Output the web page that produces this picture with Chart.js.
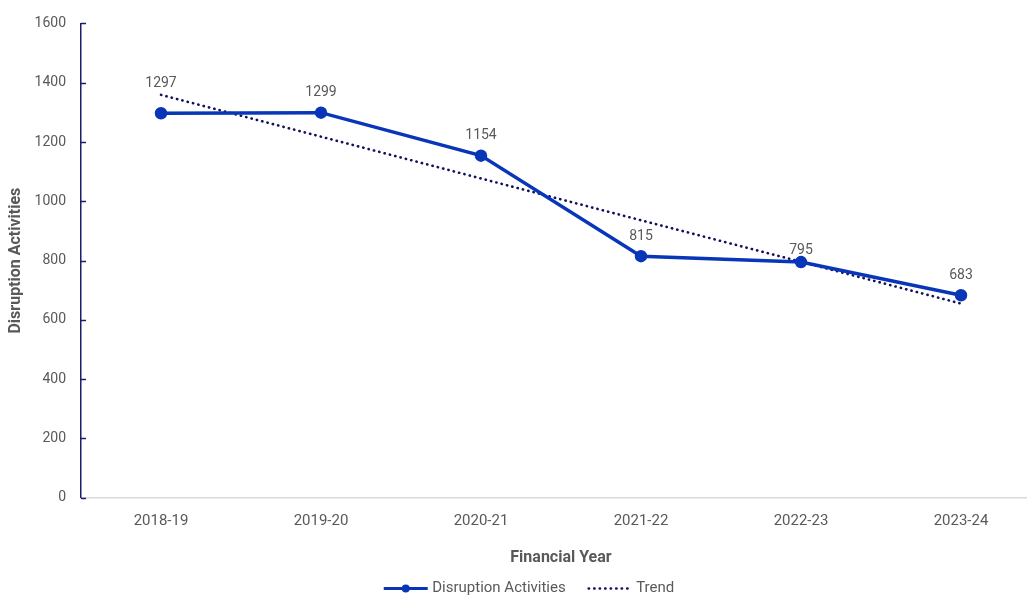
<!DOCTYPE html>
<html>
<head>
<meta charset="utf-8">
<title>Disruption Activities</title>
<script src="https://cdn.jsdelivr.net/npm/chart.js@4/dist/chart.umd.min.js"></script>
<style>
  html, body { margin: 0; padding: 0; background: #fff; overflow: hidden; }
  #wrap { position: relative; width: 1049px; height: 597px; }
</style>
</head>
<body>
<div id="wrap"><canvas id="activityChart"></canvas></div>
<script>
const years = ['2018-19', '2019-20', '2020-21', '2021-22', '2022-23', '2023-24'];
const activities = [1297, 1299, 1154, 815, 795, 683];
const trend = [1359, 1218, 1077, 936, 796, 655];
const yTicks = [0, 200, 400, 600, 800, 1000, 1200, 1400, 1600];

const textColor = '#595959';
const lineBlue = '#0936b8';
const trendNavy = '#10105e';
const axisNavy = '#1c1c6b';

Chart.defaults.font.family = 'Roboto, "Liberation Sans", sans-serif';
Chart.defaults.font.size = 14;
Chart.defaults.color = textColor;

// small tick marks pointing into the plot from the y axis
const innerTicks = {
    id: 'innerTicks',
    afterDraw(chart) {
        const y = chart.scales.y;
        const ctx = chart.ctx;
        ctx.save();
        ctx.strokeStyle = axisNavy;
        ctx.lineWidth = 1.5;
        yTicks.forEach(v => {
            const py = Math.round(y.getPixelForValue(v)) + 0.5;
            ctx.beginPath();
            ctx.moveTo(y.right, py);
            ctx.lineTo(y.right + 5, py);
            ctx.stroke();
        });
        ctx.restore();
    }
};

// value labels above each point, lifted over the trend line where they would touch
const valueLabels = {
    id: 'valueLabels',
    afterDatasetsDraw(chart) {
        const ctx = chart.ctx;
        const pts = chart.getDatasetMeta(0).data;
        const tr = chart.getDatasetMeta(1).data;
        ctx.save();
        ctx.font = '14px Roboto, "Liberation Sans", sans-serif';
        ctx.fillStyle = textColor;
        ctx.textAlign = 'center';
        ctx.textBaseline = 'middle';
        pts.forEach((p, i) => {
            let ly = p.y - 20;
            const t = tr[i];
            if (t && t.y < p.y && p.y - t.y < 25) ly = t.y - 11;
            ctx.fillText(String(activities[i]), p.x, ly);
        });
        ctx.restore();
    }
};

// line samples for the legend
const legendLines = {
    id: 'legendLines',
    afterDraw(chart) {
        const boxes = chart.legend.legendHitBoxes;
        if (!boxes || boxes.length < 2) return;
        const ctx = chart.ctx;
        const bw = chart.legend.options.labels.boxWidth;
        ctx.save();
        // solid line with marker
        let b = boxes[0];
        let x0 = b.left + 3;
        let x1 = x0 + bw;
        let cy = b.top + b.height / 2;
        ctx.strokeStyle = lineBlue;
        ctx.lineWidth = 3;
        ctx.beginPath();
        ctx.moveTo(x0, cy);
        ctx.lineTo(x1, cy);
        ctx.stroke();
        ctx.fillStyle = lineBlue;
        ctx.beginPath();
        ctx.arc((x0 + x1) / 2, cy, 4, 0, Math.PI * 2);
        ctx.fill();
        // dotted trend
        b = boxes[1];
        x0 = b.left + 3;
        x1 = x0 + bw;
        cy = b.top + b.height / 2;
        ctx.strokeStyle = trendNavy;
        ctx.lineWidth = 2.6;
        ctx.lineCap = 'round';
        ctx.setLineDash([0.3, 5.2]);
        ctx.beginPath();
        ctx.moveTo(x0 + 1, cy);
        ctx.lineTo(x1, cy);
        ctx.stroke();
        ctx.restore();
    }
};

new Chart(document.getElementById('activityChart'), {
    type: 'line',
    data: {
        labels: years,
        datasets: [{
            label: 'Disruption Activities',
            data: activities,
            borderColor: lineBlue,
            backgroundColor: lineBlue,
            borderWidth: 3.5,
            pointRadius: 4.5,
            pointHoverRadius: 4.5,
            tension: 0
        }, {
            label: 'Trend',
            data: trend,
            borderColor: trendNavy,
            backgroundColor: trendNavy,
            borderWidth: 2.6,
            borderCapStyle: 'round',
            borderDash: [0.3, 5.2],
            pointRadius: 0,
            tension: 0
        }]
    },
    options: {
        responsive: true,
        maintainAspectRatio: false,
        animation: false,
        layout: { padding: { top: 14, left: 6, right: 0, bottom: -9 } },
        plugins: {
            legend: {
                position: 'bottom',
                labels: {
                    boxWidth: 44,
                    boxHeight: 15,
                    padding: 19,
                    color: textColor,
                    font: { size: 15 },
                    generateLabels(chart) {
                        return chart.data.datasets.map((ds, i) => ({
                            text: ds.label,
                            fillStyle: 'rgba(0,0,0,0)',
                            strokeStyle: 'rgba(0,0,0,0)',
                            lineWidth: 0,
                            fontColor: textColor,
                            datasetIndex: i
                        }));
                    }
                }
            },
            tooltip: { enabled: false }
        },
        scales: {
            x: {
                offset: true,
                grid: { display: false, drawTicks: false },
                border: { display: true, color: '#d9d9d9', width: 1.5 },
                ticks: { padding: 14, color: textColor, font: { size: 15 } },
                title: {
                    display: true,
                    text: 'Financial Year',
                    color: textColor,
                    font: { size: 16, weight: 'bold' },
                    padding: { top: 5, bottom: -6 }
                }
            },
            y: {
                min: 0,
                max: 1600,
                grid: { display: false, drawTicks: false },
                border: { display: true, color: axisNavy, width: 1.5 },
                afterBuildTicks(scale) {
                    scale.ticks = yTicks.map(v => ({ value: v }));
                },
                afterFit(scale) {
                    scale.width = 75;
                },
                ticks: {
                    padding: 15,
                    color: textColor,
                    font: { size: 14 },
                    callback: v => String(v)
                },
                title: {
                    display: true,
                    text: 'Disruption Activities',
                    color: textColor,
                    font: { size: 16, weight: 'bold' },
                    padding: { top: 0, bottom: 8 }
                }
            }
        }
    },
    plugins: [innerTicks, valueLabels, legendLines]
});
</script>
</body>
</html>
